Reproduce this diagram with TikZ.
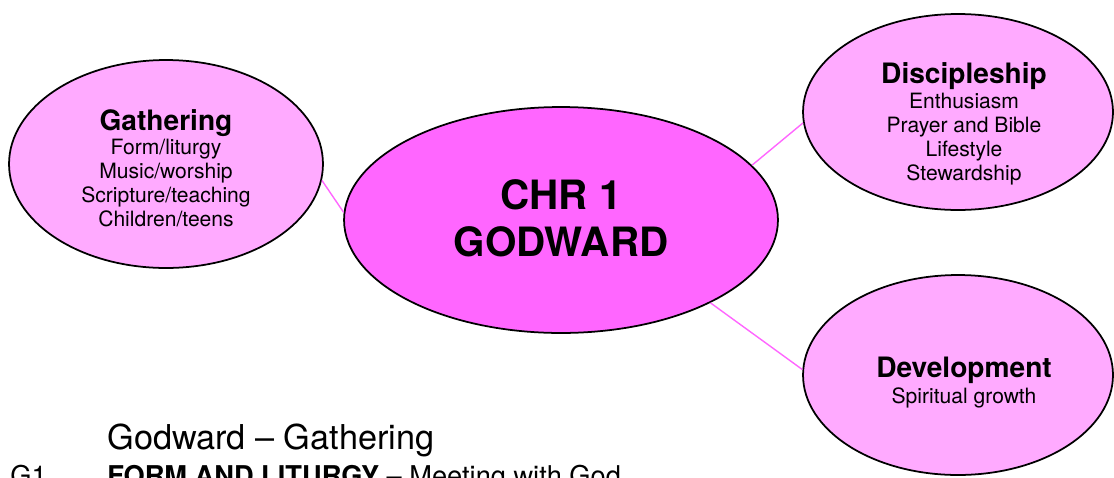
\documentclass[tikz,border=0pt]{standalone}
\usepackage{fontspec}
\setmainfont{TeX Gyre Heros}
\usetikzlibrary{shapes.geometric}
\definecolor{lightpink}{HTML}{FFAAFF}
\definecolor{hotpink}{HTML}{FF66FF}
\newcommand{\ttl}[1]{{\fontsize{16}{16}\selectfont\bfseries #1}}

\begin{document}
\begin{tikzpicture}[x=0.02cm,y=-0.02cm,
  bubble/.style={ellipse,draw=black,line width=1pt,fill=lightpink,
    inner sep=0pt},
  notes/.style={align=center,inner sep=0pt,font=\fontsize{12}{13.6}\selectfont},
  link/.style={draw=hotpink,line width=0.8pt}]
  \clip (0,0) rectangle (1114,477);
  \begin{scope}
    \node[bubble,fill=hotpink,minimum width=8.68cm,minimum height=4.52cm] (chr)
      at (561,220) {};
    \node[bubble,minimum width=6.28cm,minimum height=4.16cm] (gath) at (166,164) {};
    \node[bubble,minimum width=6.2cm,minimum height=3.92cm] (disc) at (958,112) {};
    \node[bubble,minimum width=6.2cm,minimum height=4cm] (dev) at (958,375) {};

    \node[notes,font=\fontsize{23}{26.6}\selectfont\bfseries] (chrtxt)
      at ([shift={(0,-2)}]chr.center) {CHR 1\\GODWARD};
    \node[notes] (gathtxt) at ([shift={(0,4)}]gath.center)
      {\ttl{Gathering}\\ Form/liturgy\\ Music/worship\\
       Scripture/teaching\\ Children/teens};
    \node[notes] (disctxt) at ([shift={(6,12)}]disc.center)
      {\ttl{Discipleship}\\[0.6pt] Enthusiasm\\ Prayer and Bible\\
       Lifestyle\\ Stewardship};
    \node[notes] (devtxt) at ([shift={(6,8)}]dev.center)
      {\ttl{Development}\\[1.2pt] Spiritual growth};

    \foreach \a/\b in {gath.-6/chr.178,chr.16/disc.-176,chr.-29/dev.178}{
      \draw[link] (\a) -- (\b);
    }
  \end{scope}

  \node[anchor=base west,inner sep=0pt,font=\fontsize{19.5}{20}\selectfont]
    (head) at (107,449) {Godward -- Gathering};
  \node[anchor=base west,inner sep=0pt,font=\fontsize{15.5}{16}\selectfont]
    (gone) at (10,485) {G1};
  \node[anchor=base west,inner sep=0pt,font=\fontsize{15.5}{16}\selectfont]
    (form) at (107,485) {\textbf{FORM AND LITURGY} -- Meeting with God};
\end{tikzpicture}
\end{document}
